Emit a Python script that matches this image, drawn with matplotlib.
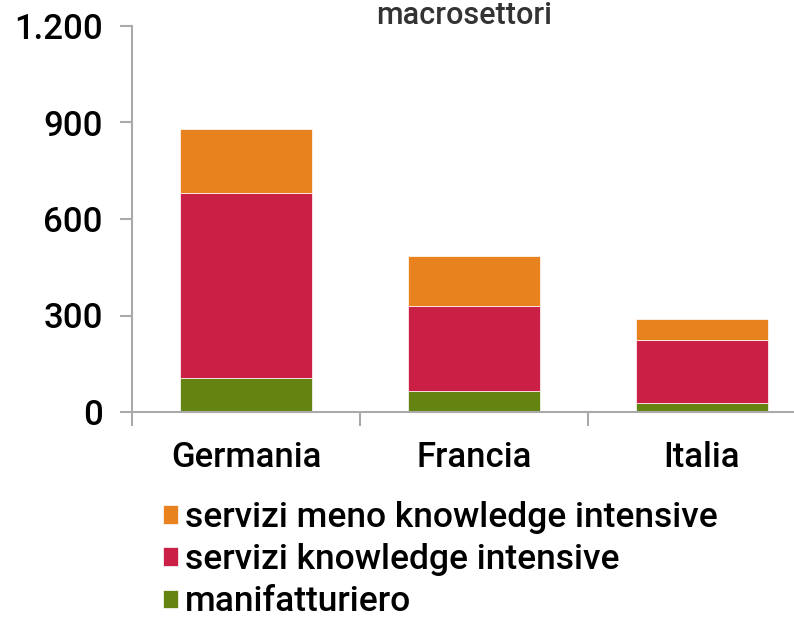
import matplotlib.pyplot as plt
from matplotlib.ticker import FuncFormatter

paesi = ['Germania', 'Francia', 'Italia']
manifatturiero = [106, 65, 28]
servizi_ki = [575, 265, 196]
servizi_meno_ki = [199, 155, 66]

col_man = '#648311'
col_ki = '#CB2045'
col_meno = '#E8821E'

plt.rcParams['font.family'] = ['Roboto', 'DejaVu Sans']
plt.rcParams['font.weight'] = 'medium'

fig = plt.figure(figsize=(7.94, 6.2), dpi=100)
ax = fig.add_axes([132 / 794, 1 - 412 / 620, 684 / 794, 386 / 620])

x = range(len(paesi))
w = 0.575
b1 = ax.bar(x, manifatturiero, w, color=col_man, label='manifatturiero',
            edgecolor='white', linewidth=0.5)
bot2 = manifatturiero
b2 = ax.bar(x, servizi_ki, w, bottom=bot2, color=col_ki,
            label='servizi knowledge intensive', edgecolor='white', linewidth=0.5)
bot3 = [a + b for a, b in zip(manifatturiero, servizi_ki)]
b3 = ax.bar(x, servizi_meno_ki, w, bottom=bot3, color=col_meno,
            label='servizi meno knowledge intensive', edgecolor='white', linewidth=0.5)

ax.set_xlim(-0.5, 2.5)
ax.set_ylim(0, 1200)
ax.set_yticks([0, 300, 600, 900, 1200])
ax.yaxis.set_major_formatter(FuncFormatter(lambda v, p: f'{int(v):,}'.replace(',', '.')))
ax.set_xticks(list(x))
ax.set_xticklabels(paesi)
ax.set_xticks([-0.5, 0.5, 1.5], minor=True)
ax.tick_params(axis='x', which='major', length=0, labelsize=25, pad=21)
ax.tick_params(axis='x', which='minor', length=10, color='#aaaaaa', width=1.5)
ax.tick_params(axis='y', length=9, color='#aaaaaa', width=1.5, labelsize=25, pad=12)

for s in ['top', 'right']:
    ax.spines[s].set_visible(False)
for s in ['left', 'bottom']:
    ax.spines[s].set_color('#aaaaaa')
    ax.spines[s].set_linewidth(1.5)

fig.text(0.585, 0.999, 'macrosettori', ha='center', va='top', fontsize=22, color='#333333')

leg = fig.legend(handles=[b3, b2, b1], loc='upper left', bbox_to_anchor=(163 / 794, 1 - 501 / 620),
                 frameon=False, fontsize=25.5, handlelength=0.42, handleheight=0.42,
                 handletextpad=0.2, labelspacing=0.26, borderaxespad=0, borderpad=0)

fig.savefig('out.png', dpi=100)
